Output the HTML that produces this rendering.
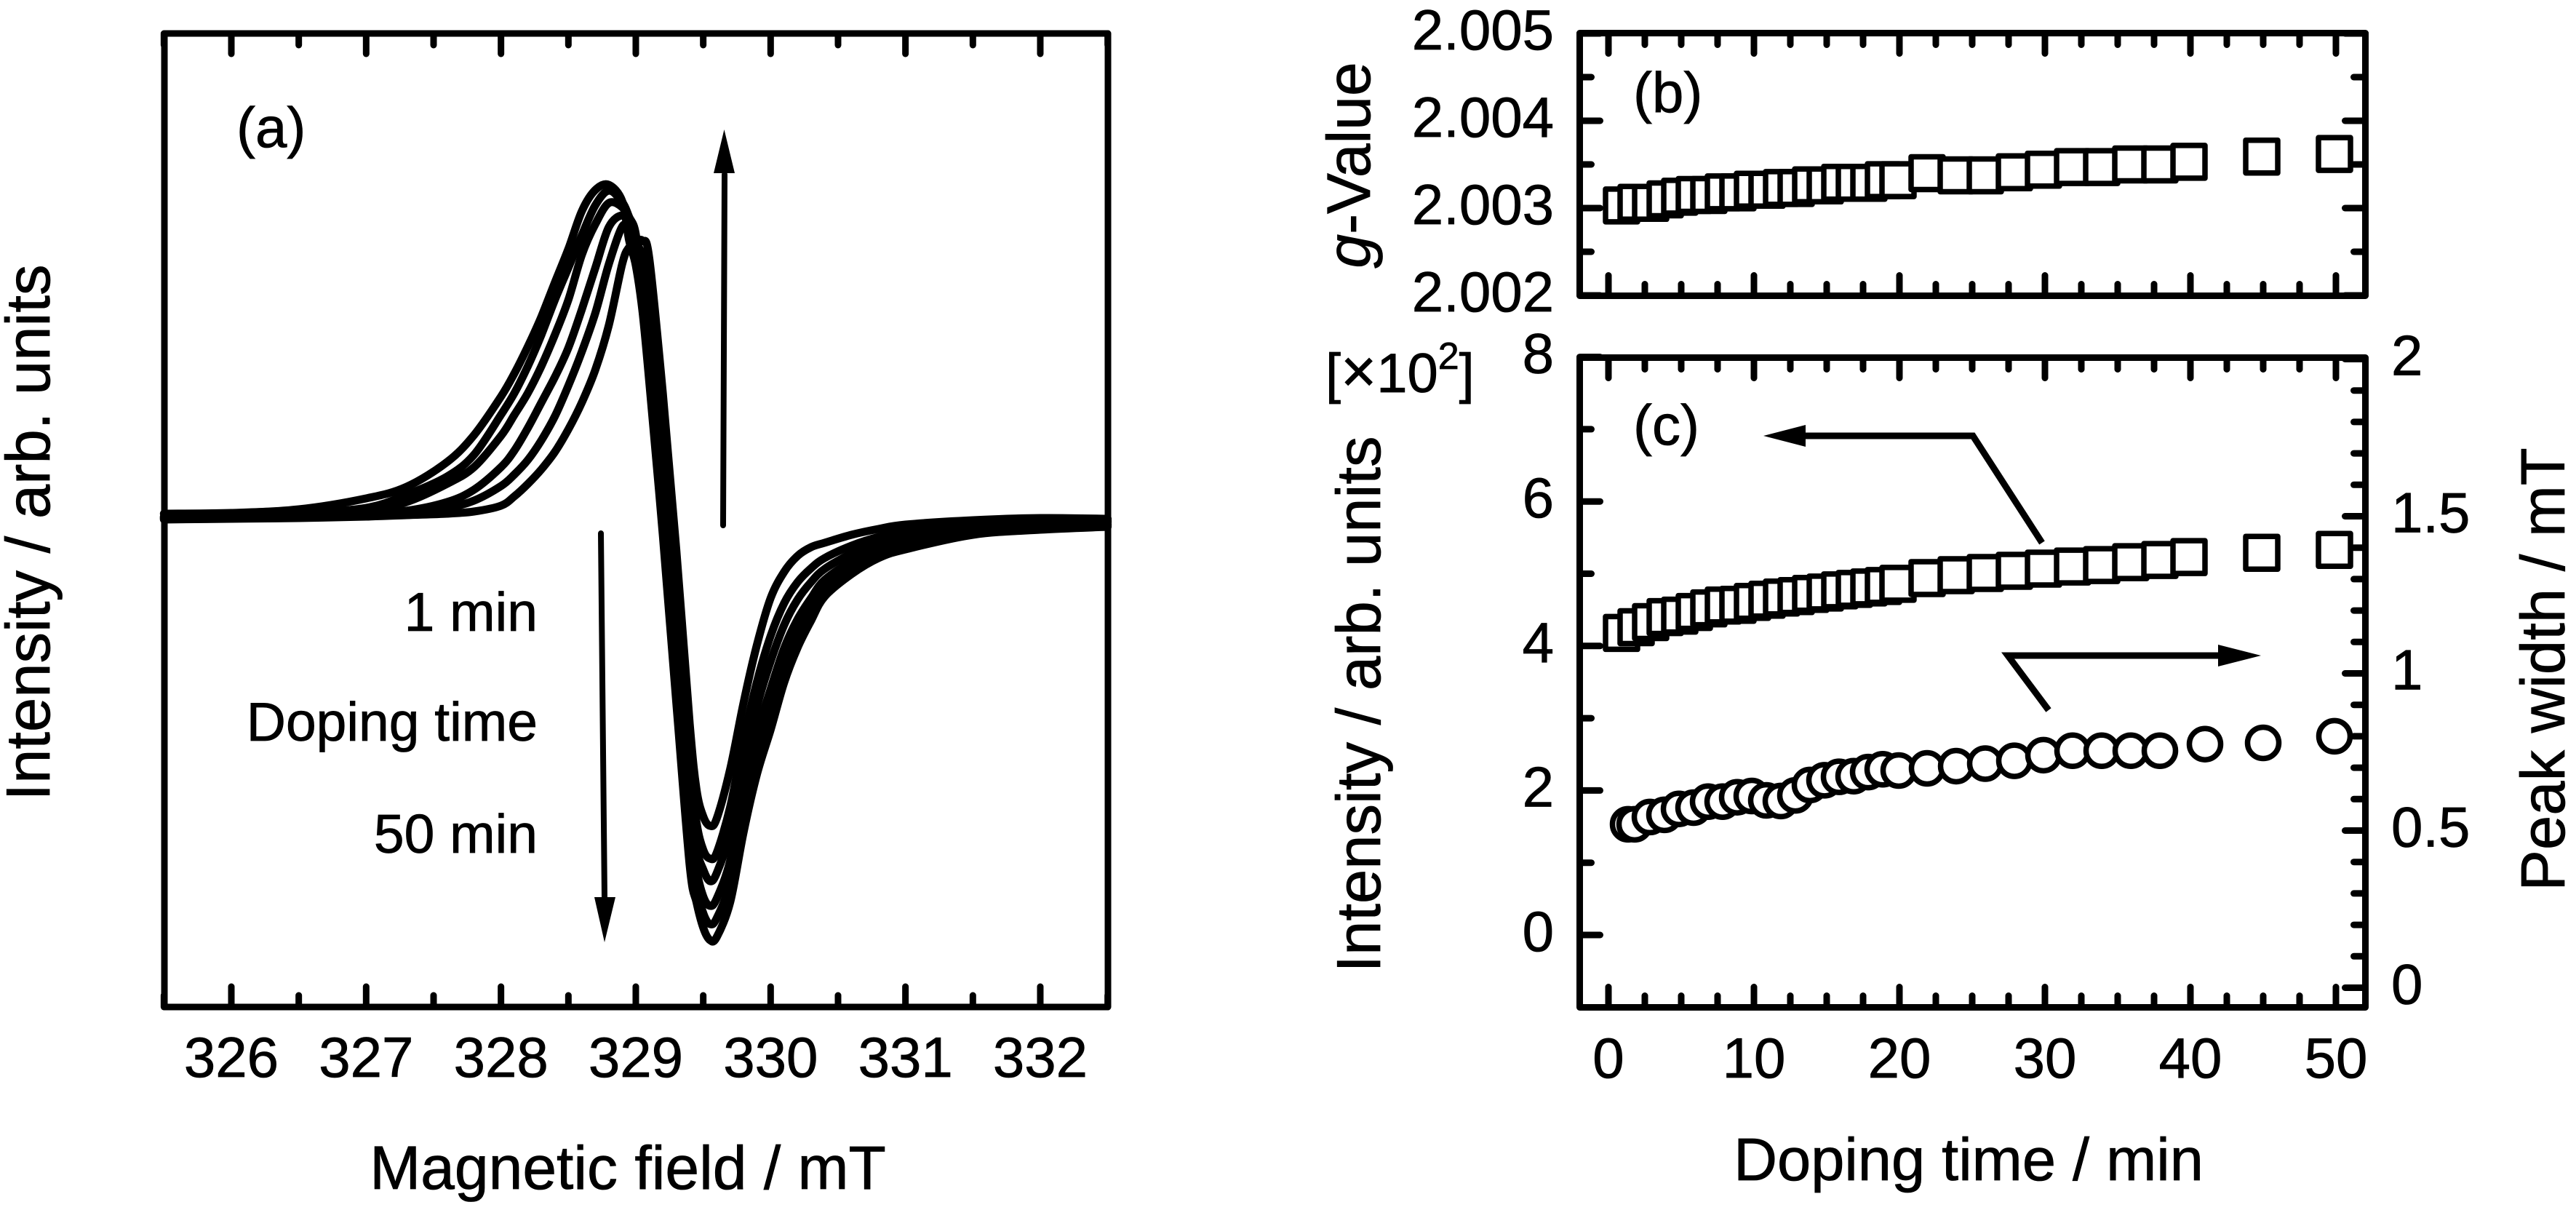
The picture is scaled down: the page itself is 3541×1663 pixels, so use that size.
<!DOCTYPE html>
<html lang="en">
<head>
<meta charset="utf-8">
<title>ESR spectra and doping-time dependence</title>
<style>
html,body{margin:0;padding:0;background:#fff;}
svg{display:block;}
text{font-family:"Liberation Sans",Arial,sans-serif;fill:#000;stroke:#000;stroke-width:0.8px;}
</style>
</head>
<body>
<svg id="fig" xmlns="http://www.w3.org/2000/svg" width="3541" height="1663" viewBox="0 0 3541 1663">
  <rect x="0" y="0" width="3541" height="1663" fill="#fff"/>

  <g id="panel-a">
    <g id="a-spectra" fill="none" stroke="#000" stroke-width="11" stroke-linejoin="round" stroke-linecap="round"></g>
    <g id="a-ticks" stroke="#000" stroke-width="9" stroke-linecap="round"></g>
    <rect x="226" y="46" width="1297" height="1338" fill="none" stroke="#000" stroke-width="9" stroke-linejoin="round"/>
    <g id="a-labels" font-size="78" text-anchor="middle"></g>
    <text x="325" y="202" font-size="78">(a)</text>
    <text x="863" y="1634" font-size="84" text-anchor="middle">Magnetic field / mT</text>
    <text transform="translate(68,732) rotate(-90)" font-size="85" text-anchor="middle">Intensity / arb. units</text>
    <text x="739" y="867" font-size="75" text-anchor="end">1 min</text>
    <text x="739" y="1018" font-size="75" text-anchor="end">Doping time</text>
    <text x="739" y="1172" font-size="75" text-anchor="end">50 min</text>
    <g>
      <line x1="994" y1="722" x2="996" y2="240" stroke="#000" stroke-width="8" stroke-linecap="round"/>
      <polygon points="995.5,178 981,238 1010,238" fill="#000"/>
    </g>
    <g>
      <line x1="826" y1="733" x2="831" y2="1234" stroke="#000" stroke-width="8" stroke-linecap="round"/>
      <polygon points="831,1295 817,1233 846,1233" fill="#000"/>
    </g>
  </g>

  <g id="panel-b">
    <g id="b-ticks" stroke="#000" stroke-width="9" stroke-linecap="round"></g>
    <g id="b-marks" fill="#fff" stroke="#000" stroke-width="7.5" stroke-linejoin="round"></g>
    <rect x="2171.5" y="45.5" width="1080" height="361" fill="none" stroke="#000" stroke-width="9" stroke-linejoin="round"/>
    <g id="b-labels" font-size="78" text-anchor="end"></g>
    <text x="2245" y="154" font-size="78">(b)</text>
    <text transform="translate(1883,227) rotate(-90)" font-size="84" text-anchor="middle"><tspan font-style="italic">g</tspan>-Value</text>
  </g>

  <g id="panel-c">
    <g id="c-ticks" stroke="#000" stroke-width="9" stroke-linecap="round"></g>
    <g id="c-squares" fill="#fff" stroke="#000" stroke-width="7.5" stroke-linejoin="round"></g>
    <g id="c-circles" fill="#fff" stroke="#000" stroke-width="7.5"></g>
    <rect x="2171.5" y="491.5" width="1080" height="893" fill="none" stroke="#000" stroke-width="9" stroke-linejoin="round"/>
    <g id="c-x-labels" font-size="78" text-anchor="middle"></g>
    <g id="c-left-labels" font-size="78" text-anchor="end"></g>
    <g id="c-right-labels" font-size="78" text-anchor="start"></g>
    <text x="2245" y="611" font-size="78">(c)</text>
    <text x="2706" y="1622" font-size="83" text-anchor="middle">Doping time / min</text>
    <text transform="translate(1897,968) rotate(-90)" font-size="85" text-anchor="middle">Intensity / arb. units</text>
    <text transform="translate(3525,920) rotate(-90)" font-size="85" text-anchor="middle">Peak width / mT</text>
    <text x="1822" y="539" font-size="76">[<tspan font-size="84">×</tspan>10<tspan font-size="52" dy="-32">2</tspan><tspan dy="32">]</tspan></text>
    <g>
      <polyline points="2807,746 2712,599 2478,599" fill="none" stroke="#000" stroke-width="9"/>
      <polygon points="2424,599 2482,584 2482,614" fill="#000"/>
    </g>
    <g>
      <polyline points="2816,976 2760,901 3052,901" fill="none" stroke="#000" stroke-width="9"/>
      <polygon points="3108,901 3049,886 3049,916" fill="#000"/>
    </g>
  </g>
</svg>

<script>
// ---- Panel (a): spectra ----
const fieldValues = [325.5,326,326.5,327,327.3,327.6,327.8,328,328.1,328.2,328.3,328.4,328.5,328.6,328.7,328.8,328.9,328.95,329,329.05,329.1,329.2,329.3,329.4,329.45,329.5,329.55,329.6,329.7,329.8,329.9,330,330.1,330.2,330.3,330.4,330.6,330.8,331,331.5,332,332.5];
const spectrum1min = [1,2,3,5,7,9,12,20,33,50,70,94,125,162,207,268,353,375,382,384,360,175,-40,-280,-370,-407,-420,-410,-342,-250,-170,-107,-71,-49,-37,-31,-20,-12,-6,0,3,2];
const spectrum2 = [2,3,5,7,10,17,27,47,63,83,110,143,185,232,285,352,404,397,383,363,325,125,-85,-330,-415,-453,-465,-457,-394,-301,-221,-159,-114,-85,-66,-52,-35,-23,-16,-6,-1,-1];
const spectrum3 = [3,4,6,9,13,25,42,73,96,127,162,197,237,290,347,403,419,405,380,347,297,75,-140,-370,-450,-480,-496,-485,-430,-335,-255,-194,-144,-109,-85,-67,-46,-31,-22,-10,-5,-3];
const spectrum4 = [4,5,7,12,25,50,73,116,145,175,212,255,303,365,407,436,430,412,387,330,265,47,-190,-410,-480,-517,-530,-520,-468,-373,-293,-232,-176,-136,-107,-82,-57,-40,-29,-14,-8,-6];
const spectrum5 = [5,6,10,17,35,60,90,145,175,212,255,303,347,392,433,453,437,417,393,310,230,15,-220,-440,-503,-540,-555,-547,-498,-401,-321,-261,-200,-156,-123,-94,-66,-46,-35,-17,-10,-7];
const spectrum50min = [9,10,15,30,46,80,117,170,202,239,280,327,373,425,454,461,438,385,350,286,190,-20,-250,-475,-525,-560,-577,-573,-525,-428,-348,-288,-223,-175,-138,-105,-74,-52,-40,-20,-13,-9];
const fieldTickLabels = [326,327,328,329,330,331,332];
const fieldMinorTicks = [325.5,326.5,327.5,328.5,329.5,330.5,331.5,332.5];

// ---- Panels (b), (c): time series ----
const squareTimes = [0.9,1.9,2.9,3.9,4.9,5.9,6.9,7.9,8.9,9.9,10.9,11.9,12.9,13.9,14.9,15.9,16.9,17.9,18.9,19.9,21.9,23.9,25.9,27.9,29.9,31.9,33.9,35.9,37.9,39.9,44.9,49.9];
const gValues = [2.00303,2.00306,2.00306,2.0031,2.00313,2.00315,2.00315,2.00318,2.00318,2.00321,2.00321,2.00323,2.00323,2.00326,2.00326,2.00329,2.00329,2.00329,2.00332,2.00332,2.0034,2.003375,2.003375,2.00341,2.00344,2.00347,2.00347,2.0035,2.0035,2.00353,2.00359,2.00362];
const intensityValues = [4.18,4.26,4.33,4.40,4.42,4.47,4.52,4.56,4.57,4.61,4.64,4.67,4.69,4.72,4.74,4.77,4.79,4.81,4.83,4.86,4.94,4.98,5.01,5.04,5.07,5.10,5.12,5.16,5.19,5.23,5.29,5.33];
const circleTimes = [1.35,1.8,2.85,3.85,4.85,5.85,6.85,7.85,8.85,9.85,10.85,11.85,12.85,13.85,14.85,15.85,16.85,17.85,18.85,19.95,21.9,23.9,25.9,27.9,29.9,31.9,33.9,35.9,37.9,41,45,49.9];
const peakWidthValues = [0.52,0.52,0.543,0.55,0.569,0.573,0.592,0.592,0.606,0.61,0.596,0.594,0.612,0.645,0.66,0.671,0.673,0.686,0.695,0.691,0.698,0.705,0.713,0.722,0.74,0.754,0.754,0.754,0.754,0.775,0.779,0.80];

const timeTickLabels = [0,10,20,30,40,50];
const timeMinorTicks = [2.5,5,7.5,12.5,15,17.5,22.5,25,27.5,32.5,35,37.5,42.5,45,47.5];
const gTickLabels = ["2.005","2.004","2.003","2.002"];
const gMinorTicks = [2.0045,2.0035,2.0025];
const intensityTickLabels = [8,6,4,2,0];
const intensityMinorTicks = [7,5,3,1];
const widthTickLabels = ["2","1.5","1","0.5","0"];
const widthMinorTicks = [1.9,1.8,1.7,1.6,1.4,1.3,1.2,1.1,0.9,0.8,0.7,0.6,0.4,0.3,0.2,0.1];

// ---- Axis functions ----
const xField = v => 318 + (v - 326) * 185.33;
const ySignal = v => 715 - v;
const xTime = v => 2211 + v * 20;
const yG = v => 46 + (2.005 - v) * 120000;
const yIntensity = v => 1285 - v * 99.3;
const yWidth = v => 1357.5 - v * 432;

const NS = "http://www.w3.org/2000/svg";
function mk(tag, parentId, props, content) {
  const n = document.createElementNS(NS, tag);
  for (const k in props) n.setAttribute(k, props[k]);
  if (content !== undefined) n.textContent = content;
  document.getElementById(parentId).appendChild(n);
  return n;
}

// Smooth path through sampled points
function smoothPath(xs, ys) {
  let d = "M" + xs[0].toFixed(1) + " " + ys[0].toFixed(1);
  for (let i = 0; i < xs.length - 1; i++) {
    const p0 = i > 0 ? i - 1 : i, p3 = i + 2 < xs.length ? i + 2 : i + 1;
    const c1x = xs[i] + (xs[i + 1] - xs[p0]) / 6, c1y = ys[i] + (ys[i + 1] - ys[p0]) / 6;
    const c2x = xs[i + 1] - (xs[p3] - xs[i]) / 6, c2y = ys[i + 1] - (ys[p3] - ys[i]) / 6;
    d += "C" + c1x.toFixed(1) + " " + c1y.toFixed(1) + " " + c2x.toFixed(1) + " " + c2y.toFixed(1) + " " + xs[i + 1].toFixed(1) + " " + ys[i + 1].toFixed(1);
  }
  return d;
}

// Spectra
[spectrum1min, spectrum2, spectrum3, spectrum4, spectrum5, spectrum50min].forEach(function (series) {
  const el = mk("path", "a-spectra", { d: smoothPath(fieldValues.map(xField), series.map(ySignal)) });
  
  
});

// Panel (a) ticks and labels
fieldTickLabels.forEach(function (v) {
  const x = xField(v);
  [[46, 74], [1384, 1356]].forEach(function (p) {
    const el = mk("line", "a-ticks", { x1: x, x2: x, y1: p[0], y2: p[1] });
    
    
  });
  const t = mk("text", "a-labels", { x: x, y: 1480 }, String(v));
  
  
});
fieldMinorTicks.forEach(function (v) {
  const x = xField(v);
  [[46, 62], [1384, 1368]].forEach(function (p) {
    const el = mk("line", "a-ticks", { x1: x, x2: x, y1: p[0], y2: p[1] });
    
    
  });
});

// Time axis ticks for panels (b) and (c)
[["b-ticks", 45.5, 406.5], ["c-ticks", 491.5, 1384.5]].forEach(function (cfg) {
  timeTickLabels.forEach(function (v) {
    const x = xTime(v);
    const top = mk("line", cfg[0], { x1: x, x2: x, y1: cfg[1], y2: cfg[1] + 28 });
    
    
    const bottom = mk("line", cfg[0], { x1: x, x2: x, y1: cfg[2], y2: cfg[2] - 28 });
    
    
  });
  timeMinorTicks.forEach(function (v) {
    const x = xTime(v);
    const top = mk("line", cfg[0], { x1: x, x2: x, y1: cfg[1], y2: cfg[1] + 16 });
    
    
    const bottom = mk("line", cfg[0], { x1: x, x2: x, y1: cfg[2], y2: cfg[2] - 16 });
    
    
  });
});
timeTickLabels.forEach(function (v) {
  const t = mk("text", "c-x-labels", { x: xTime(v), y: 1481 }, String(v));
  
  
});

// Panel (b) y axis
gTickLabels.forEach(function (s) {
  const y = yG(parseFloat(s));
  const l = mk("line", "b-ticks", { x1: 2171.5, x2: 2199.5, y1: y, y2: y });
  
  
  const r = mk("line", "b-ticks", { x1: 3251.5, x2: 3223.5, y1: y, y2: y });
  
  
  const t = mk("text", "b-labels", { x: 2136, y: y + 22 }, s);
  
  
});
gMinorTicks.forEach(function (v) {
  const y = yG(v);
  const l = mk("line", "b-ticks", { x1: 2171.5, x2: 2187.5, y1: y, y2: y });
  
  
  const r = mk("line", "b-ticks", { x1: 3251.5, x2: 3235.5, y1: y, y2: y });
  
  
});

// Panel (c) left y axis
intensityTickLabels.forEach(function (v) {
  const y = yIntensity(v);
  const l = mk("line", "c-ticks", { x1: 2171.5, x2: 2199.5, y1: y, y2: y });
  
  
  const t = mk("text", "c-left-labels", { x: 2136, y: y + 22 }, String(v));
  
  
});
intensityMinorTicks.forEach(function (v) {
  const y = yIntensity(v);
  const l = mk("line", "c-ticks", { x1: 2171.5, x2: 2187.5, y1: y, y2: y });
  
  
});

// Panel (c) right y axis
widthTickLabels.forEach(function (s) {
  const y = yWidth(parseFloat(s));
  const l = mk("line", "c-ticks", { x1: 3251.5, x2: 3223.5, y1: y, y2: y });
  
  
  const t = mk("text", "c-right-labels", { x: 3287, y: y + 22 }, s);
  
  
});
widthMinorTicks.forEach(function (v) {
  const y = yWidth(v);
  const l = mk("line", "c-ticks", { x1: 3251.5, x2: 3235.5, y1: y, y2: y });
  
  
});

// Markers
squareTimes.forEach(function (t, i) {
  const x = xTime(t), yg = yG(gValues[i]), yi = yIntensity(intensityValues[i]);
  const a = mk("rect", "b-marks", { x: x - 22, y: yg - 22.5, width: 44, height: 45 });
  
  
  const b = mk("rect", "c-squares", { x: x - 22, y: yi - 22.5, width: 44, height: 45 });
  
  
});
circleTimes.forEach(function (t, i) {
  const c = mk("circle", "c-circles", { cx: xTime(t), cy: yWidth(peakWidthValues[i]), r: 21.5 });
  
  
});
</script>
</body>
</html>
